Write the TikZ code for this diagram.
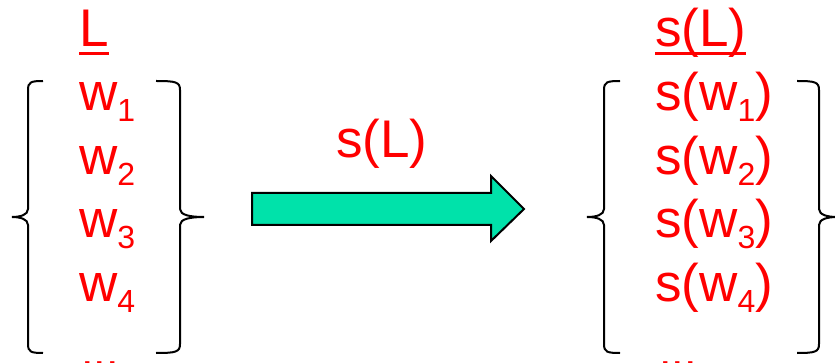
\documentclass[tikz,border=0pt]{standalone}
\usepackage{fontspec}
\setmainfont{Liberation Sans}
\usepackage{tikz}

\definecolor{wordred}{RGB}{255,0,0}
\definecolor{mapgreen}{RGB}{0,226,170}

\newcommand{\idx}[1]{\raisebox{-11pt}{\fontsize{32}{32}\selectfont #1}}
\newcommand{\ulined}[1]{\sbox0{#1}\rlap{\rule[-8pt]{\wd0}{3pt}}\usebox0}

\begin{document}
\begin{tikzpicture}[
  x=1pt, y=-1pt,
  item/.style={anchor=base west, inner sep=0pt, text=wordred,
               font=\fontsize{53}{53}\selectfont},
  dots/.style={item, font=\fontsize{45}{45}\selectfont},
  brace/.style={draw=black, line width=2pt},
  bigarrow/.style={draw=black, line width=2pt, fill=mapgreen, line join=miter}
]
\useasboundingbox (0,0) rectangle (835,363);

% left set
\node[item] (L) at (79,47) {\ulined{L}};
\foreach \i in {1,...,4}
  \node[item] (w\i) at (79,47+63.6*\i) {w\idx{\i}};
\node[dots] (ldots) at (81,366) {...};

\draw[brace] (43,81) .. controls (31,81) and (28,82) .. (28,90) -- (28,209)
  .. controls (28,215) and (20,217) .. (12,217)
  .. controls (20,217) and (28,219) .. (28,225) -- (28,344)
  .. controls (28,352) and (31,353) .. (43,353);
\draw[brace] (156,81) .. controls (176,81) and (180,82) .. (180,90) -- (180,209)
  .. controls (180,215) and (190,217) .. (204,217)
  .. controls (190,217) and (180,219) .. (180,225) -- (180,344)
  .. controls (180,352) and (176,353) .. (156,353);

% mapping
\node[item] (map) at (336,158) {s(L)};
\draw[bigarrow] (252,193) -- (491,193) -- (491,176) -- (524,209)
  -- (491,241) -- (491,225) -- (252,225) -- cycle;

% right set
\node[item] (sL) at (655,47) {\ulined{s(L)}};
\foreach \i in {1,...,4}
  \node[item] (sw\i) at (655,47+63.6*\i) {s(w\idx{\i})};
\node[dots] (rdots) at (659,366) {...};

\draw[brace] (620,81) .. controls (607,81) and (604,82) .. (604,90) -- (604,209)
  .. controls (604,215) and (596,217) .. (587,217)
  .. controls (596,217) and (604,219) .. (604,225) -- (604,344)
  .. controls (604,352) and (607,353) .. (620,353);
\draw[brace] (797,81) .. controls (815,81) and (819,82) .. (819,90) -- (819,209)
  .. controls (819,215) and (828,217) .. (837,217)
  .. controls (828,217) and (819,219) .. (819,225) -- (819,344)
  .. controls (819,352) and (815,353) .. (797,353);

\end{tikzpicture}
\end{document}
